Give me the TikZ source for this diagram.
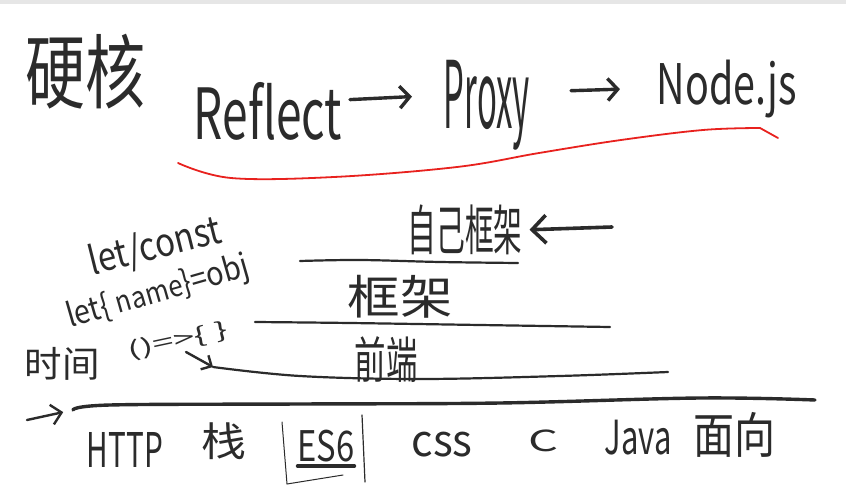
\documentclass[tikz,border=0pt]{standalone}
\usepackage{fontspec}
\usepackage{graphicx}
\setmainfont{Noto Sans CJK SC}
\usetikzlibrary{arrows.meta}
\definecolor{ink}{HTML}{2B2B2B}
\definecolor{redink}{HTML}{E8211E}
\definecolor{barbg}{HTML}{E6E6E6}
\newcommand\hw[3]{\resizebox*{#1pt}{#2pt}{#3}}
\tikzset{
  hand/.style={inner sep=0pt, outer sep=0pt, text=ink},
  stroke/.style={draw=ink, line width=2.2pt, line cap=round, line join=round},
  thick stroke/.style={draw=ink, line width=3.4pt, line cap=round, line join=round},
  arr/.style={draw=ink, line width=3.4pt, line cap=round, -{Straight Barb[length=10pt, width=22pt, line width=3.4pt]}},
  thinarr/.style={draw=ink, line width=2.4pt, line cap=round, -{Straight Barb[length=8pt, width=16pt, line width=2.4pt]}},
  redline/.style={draw=redink, line width=1.8pt, line cap=round, line join=round}
}
\begin{document}
\begin{tikzpicture}[x=1pt, y=-1pt]
\useasboundingbox (0,0) rectangle (846,500);
\fill[white] (0,0) rectangle (846,500);
\fill[barbg] (0,0) rectangle (846,4);

% title row
\node[hand] (hard) at (85,72) {\hw{120}{75}{硬核}};
\node[hand] (reflect) at (268,111) {\hw{148}{58}{Reflect}};
\node[hand] (proxy) at (487,105) {\hw{86}{90}{Proxy}};
\node[hand] (nodejs) at (727,89) {\hw{140}{58}{Node.js}};
\draw[arr, shorten <=8pt, shorten >=32pt] ([yshift=11pt]reflect.east) -- ([yshift=10pt]proxy.west);
\draw[arr, shorten <=41pt, shorten >=37pt] ([yshift=13pt]proxy.east) -- ([yshift=1pt]nodejs.west);
\draw[redline] plot[smooth, tension=0.6] coordinates {(178,163) (231,178) (334,177) (457,167) (539,153) (621,140) (703,130) (760,128)} -- (778,138);

% layers
\node[hand] (own) at (465,230) {\hw{115}{50}{自己框架}};
\node[hand] (fw) at (400,297) {\hw{105}{43}{框架}};
\node[hand] (fe) at (386,360) {\hw{63}{46}{前端}};
\coordinate (ownsrc) at (612,227);
\draw[arr, line width=3.6pt, -{Straight Barb[length=14pt, width=28pt, line width=3.6pt]}, shorten >=7pt] (ownsrc) -- (own.east);

\draw[stroke] plot[smooth, tension=0.6] coordinates {(300,261) (360,260) (440,262) (518,263)};
\draw[stroke] plot[smooth, tension=0.6] coordinates {(255,322) (350,323) (480,325) (610,327)};
\coordinate (l3) at (213,367);
\draw[stroke] plot[smooth, tension=0.6] coordinates {(l3) (300,376) (420,379) (560,376) (668,372)};

% ES6 notes
\node[hand, rotate=14] (letconst) at (155,247) {\hw{135}{38}{let/const}};
\node[hand, rotate=16] (letname) at (158,293) {\hw{188}{34}{let\{ {\small name}\}=obj}};
\node[hand] (shijian) at (62,364) {\hw{75}{33}{时间}};
\node[hand, rotate=12] (fn) at (178,341) {\hw{102}{22}{()=>\{ \}}};
\coordinate (fnarr) at (186,352);
\draw[thinarr] (fnarr) -- (l3);

% base line
\coordinate (base) at (73,410);
\coordinate (basearr) at (27,420);
\draw[thick stroke] plot[smooth, tension=0.6] coordinates {(base) (110,405) (300,404) (500,403) (700,398) (815,400)};
\draw[thinarr, -{Straight Barb[length=10pt, width=20pt, line width=2.4pt]}, shorten >=10pt] (basearr) -- (base);

% bottom row
\node[hand] (http) at (125,450) {\hw{76}{35}{HTTP}};
\node[hand] (zhan) at (224,441) {\hw{45}{37}{栈}};
\node[hand] (es6) at (326,446) {\hw{57}{32}{ES6}};
\node[hand] (css) at (442,445) {\hw{61}{25}{css}};
\node[hand] (c) at (543,441) {\hw{30}{22}{C}};
\node[hand] (java) at (638,438) {\hw{67}{35}{Java}};
\node[hand] (mx) at (734,435) {\hw{82}{45}{面向}};
\draw[draw=ink, line width=1pt, line cap=round] (282,422) -- (287,484) -- (343,475);
\draw[draw=ink, line width=1.2pt, line cap=round] (362,415) -- (365,482);
\draw[thick stroke] ([yshift=-4pt]es6.south west) -- ([yshift=-4pt]es6.south east);
\end{tikzpicture}
\end{document}
